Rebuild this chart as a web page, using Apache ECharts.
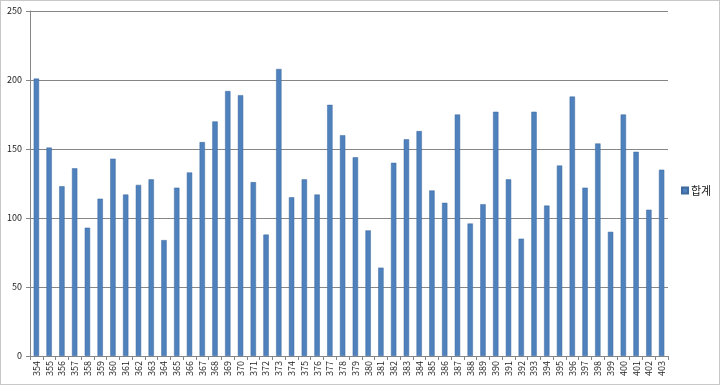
<!DOCTYPE html>
<html><head><meta charset="utf-8">
<script src="https://cdn.jsdelivr.net/npm/echarts@6/dist/echarts.min.js"></script>
<style>html,body{margin:0;padding:0;background:#fff}#c{position:absolute;left:0;top:0;width:718px;height:383px;border:1px solid #c8c8c8}</style>
</head><body><div id="c"></div>
<script>
const categories = ["354","355","356","357","358","359","360","361","362","363","364","365","366","367","368","369","370","371","372","373","374","375","376","377","378","379","380","381","382","383","384","385","386","387","388","389","390","391","392","393","394","395","396","397","398","399","400","401","402","403"];
const totals = [201,151,123,136,93,114,143,117,124,128,84,122,133,155,170,192,189,126,88,208,115,128,117,182,160,144,91,64,140,157,163,120,111,175,96,110,177,128,85,177,109,138,188,122,154,90,175,148,106,135];
const seriesName = "합계";
const yTicks = {min:0, max:250, interval:50};

const chart = echarts.init(document.getElementById('c'), null, {renderer:'canvas'});
const font = '"Noto Sans CJK KR", "DejaVu Sans", sans-serif';
chart.setOption({
  animation:false,
  grid:{left:29, right:51, top:10, bottom:28, containLabel:false},
  legend:{
    left:680, top:184, orient:'vertical', padding:0,
    itemWidth:6, itemHeight:6, itemGap:4,
    icon:'rect',
    textStyle:{fontFamily:font, fontSize:11, color:'#222', padding:[0,0,0,-2]},
    data:[seriesName]
  },
  xAxis:{
    type:'category', data:categories, boundaryGap:true,
    axisLine:{lineStyle:{color:'#868686', width:1}},
    axisTick:{show:true, alignWithLabel:false, length:4, lineStyle:{color:'#868686'}},
    axisLabel:{rotate:90, interval:0, fontSize:9, color:'#222', fontFamily:font, margin:5}
  },
  yAxis:{
    type:'value', min:yTicks.min, max:yTicks.max, interval:yTicks.interval,
    axisLine:{show:true, lineStyle:{color:'#868686'}},
    axisTick:{show:true, length:4, lineStyle:{color:'#868686'}},
    splitLine:{lineStyle:{color:'#868686', width:1}},
    axisLabel:{fontSize:9, color:'#222', fontFamily:font, margin:8}
  },
  series:[{
    name:seriesName, type:'bar', data:totals, barWidth:'42%',
    itemStyle:{color:'#4F81BD', borderColor:'#3e6a9e', borderWidth:0.5}
  }]
});
</script></body></html>
